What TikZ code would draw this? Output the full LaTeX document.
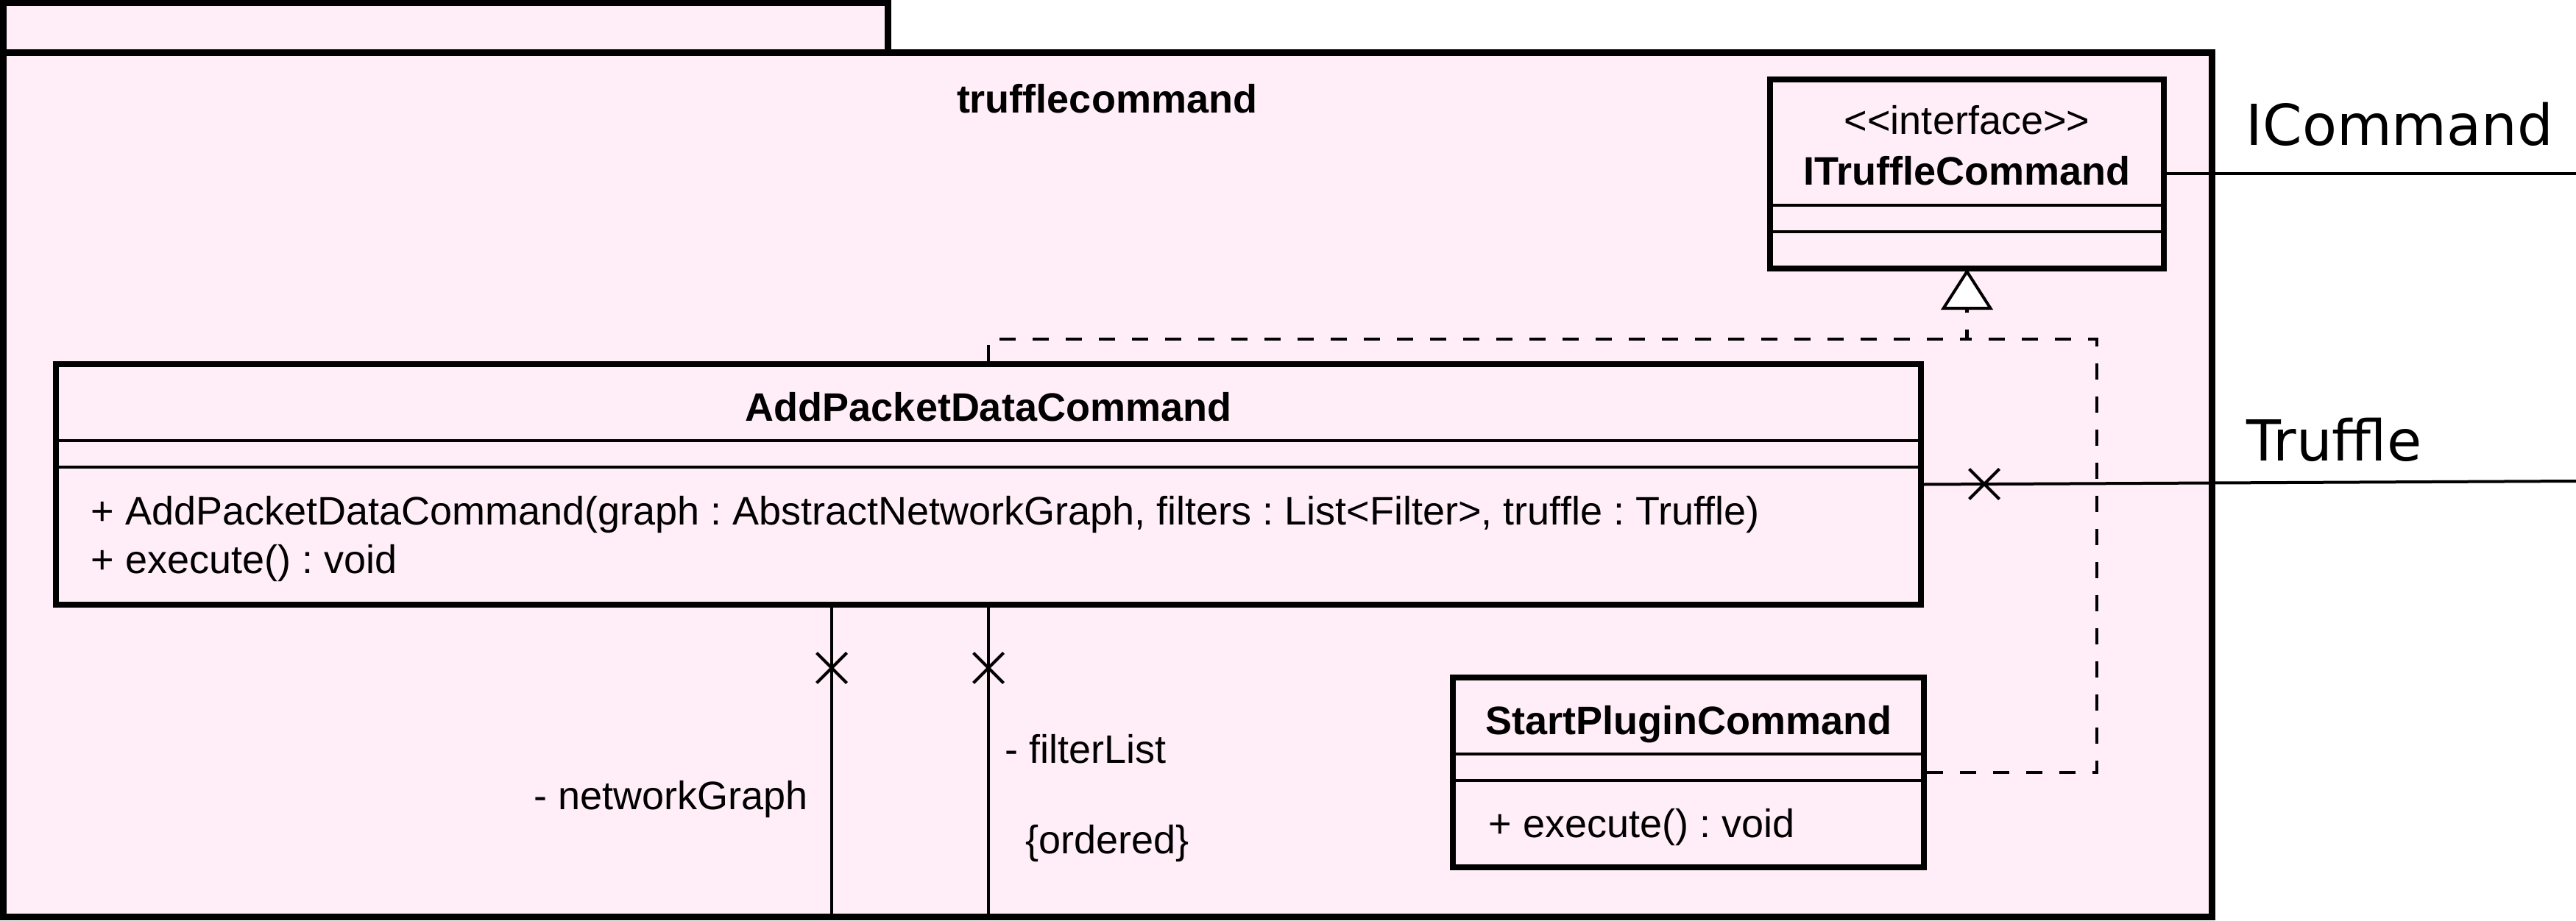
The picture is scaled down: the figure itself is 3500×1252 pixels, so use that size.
\documentclass[tikz,border=0pt]{standalone}
\usepackage{fontspec}
\setmainfont{Liberation Sans}[Ligatures={NoCommon}]
\newfontfamily\djv{DejaVu Sans}
\usetikzlibrary{shapes.misc,fit}
\definecolor{pkgpink}{RGB}{255,237,247}
\frenchspacing
\begin{document}
\begin{tikzpicture}[x=0.25pt,y=-0.25pt,
  pkgline/.style={line width=2.25pt, draw=black, fill=pkgpink},
  classbox/.style={draw=black, line width=2.1pt, fill=pkgpink, inner sep=0pt},
  divider/.style={line width=1.15pt},
  conn/.style={line width=1pt},
  real/.style={line width=1.2pt, dash pattern=on 5.5pt off 5.75pt},
  xmark/.style={cross out, draw=black, line width=1pt, minimum width=9.25pt, minimum height=9.25pt, inner sep=0pt},
  txt/.style={font=\fontsize{13.5}{16}\selectfont\frenchspacing, inner sep=0pt},
  bold/.style={font=\fontsize{13.5}{16}\selectfont\bfseries, inner sep=0pt},
  big/.style={font=\djv\fontsize{19.2}{22}\selectfont, inner sep=0pt, anchor=base west}]
\useasboundingbox (0,0) rectangle (3500,1252);
\fill[white] (0,0) rectangle (3500,1252);
% package
\draw[pkgline] (4,4) rectangle (1206,72);
\draw[pkgline] (4,72) rectangle (3005,1246);
\node[bold, anchor=base] (pkgname) at (1504,154) {trufflecommand};
% classes
\node[classbox, fit={(2405,108) (2940,365)}] (itc) {};
\draw[divider] (2405,279) -- (2940,279);
\draw[divider] (2405,315) -- (2940,315);
\node[txt, anchor=base] (itcst) at (2672.5,183) {<\kern0pt<interface>\kern0pt>};
\node[bold, anchor=base] (itcname) at (2672.5,252) {ITruffleCommand};

\node[classbox, fit={(76,495) (2610,822)}] (add) {};
\draw[divider] (76,599) -- (2610,599);
\draw[divider] (76,635) -- (2610,635);
\node[bold, anchor=base] (addname) at (1343,572) {AddPacketDataCommand};
\node[txt, anchor=base west] (addm1) at (123,713) {+ AddPacketDataCommand(graph : AbstractNetworkGraph, filters : List<Filter>, truffle : Truffle)};
\node[txt, anchor=base west] (addm2) at (123,779) {+ execute() : void};

\node[classbox, fit={(1974,921) (2614,1179)}] (spc) {};
\draw[divider] (1974,1025) -- (2614,1025);
\draw[divider] (1974,1061) -- (2614,1061);
\node[bold, anchor=base] (spcname) at (2294,998) {StartPluginCommand};
\node[txt, anchor=base west] (spcm) at (2022,1138) {+ execute() : void};

% coordinates
\coordinate (icend) at (3500,236.5);
\coordinate (trend) at (3500,654);
\coordinate (ngend) at (1130,1246);
\coordinate (flend) at (1343,1246);
\coordinate (rj) at (2672.5,461);
\coordinate (rc) at (2849,461);
\coordinate (tb) at (2672.5,415);

% realization
\draw[real] (add.north) -- (add.north |- rj) -- (rj) -- (tb);
\draw[real] (spc.east) -- (spc.east -| rc) -- (rc) -- (rj);
\draw[line width=1pt, fill=white] (itc.south) -- ++(32,50) -- ++(-64,0) -- cycle;

% associations
\draw[conn] (itc.east) -- (icend);
\node[big] (iclabel) at (3051,198) {ICommand};
\draw[conn] (add.east) -- (trend);
\node[xmark] (x1) at (2696,658) {};
\node[big] (trlabel) at (3052,626) {Truffle};
\draw[conn] (add.south -| ngend) -- (ngend);
\node[xmark] (x2) at (1130,908) {};
\node[txt, anchor=base east] (nglabel) at (1098,1100) {- networkGraph};
\draw[conn] (add.south -| flend) -- (flend);
\node[xmark] (x3) at (1343,908) {};
\node[txt, anchor=base west] (fllabel) at (1365,1037) {- filterList};
\node[txt, anchor=base west] (ordlabel) at (1393,1160) {\{ordered\}};
\end{tikzpicture}
\end{document}
